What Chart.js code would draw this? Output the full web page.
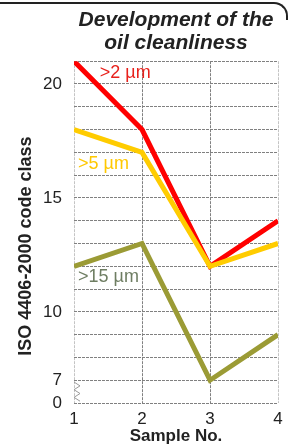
<!DOCTYPE html>
<html>
<head>
<meta charset="utf-8">
<script src="https://cdn.jsdelivr.net/npm/chart.js@4.4.1/dist/chart.umd.min.js"></script>
<style>
  html, body { margin: 0; padding: 0; background: #fff; }
  #wrap { position: relative; width: 293px; height: 447px; }
  #frame {
    position: absolute; top: 2px; left: -4px; width: 292px; height: 18px;
    border-top: 2px solid #222; border-right: 2px solid #222;
    border-top-right-radius: 14px; box-sizing: border-box;
  }
</style>
</head>
<body>
<div id="wrap">
  <canvas id="c" role="img" aria-label="Development of the oil cleanliness"></canvas>
  <div id="frame"></div>
</div>
<script>
// sample numbers on the x axis
const samples = [1, 2, 3, 4];
// ISO 4406 code class per particle size
const over2 = [21, 18, 12, 14];
const over5 = [18, 17, 12, 13];
const over15 = [12, 13, 7, 9];
// y axis is broken: the bottom gridline stands for 0
const yTickValues = [6, 7, 10, 15, 20];
const yTickText = ['0', '7', '10', '15', '20'];
const seriesNames = ['>2 µm', '>5 µm', '>15 µm'];
const yTitle = 'ISO 4406-2000 code class';

const FONT = "'Liberation Sans', Arial, sans-serif";
const pts = (arr) => samples.map((s, i) => ({ x: s, y: arr[i] }));

// line labels, y title (sits a bit low in the original) + axis break mark
const extras = {
  id: 'extras',
  afterDatasetsDraw(chart) {
    const { ctx, chartArea, scales: { x, y } } = chart;
    ctx.save();
    ctx.font = '18px ' + FONT;
    ctx.textBaseline = 'middle';
    const spots = [
      { t: seriesNames[0], x: 1.38, y: 20.5, c: '#e8211c' },
      { t: seriesNames[1], x: 1.06, y: 16.5, c: '#ffc800' },
      { t: seriesNames[2], x: 1.06, y: 11.55, c: '#6e7d62' },
    ];
    spots.forEach((s) => {
      ctx.fillStyle = s.c;
      ctx.fillText(s.t, x.getPixelForValue(s.x), y.getPixelForValue(s.y));
    });

    ctx.save();
    ctx.translate(y.left + 14, (chartArea.top + chartArea.bottom) / 2 + 14);
    ctx.rotate(-Math.PI / 2);
    ctx.textAlign = 'center';
    ctx.fillStyle = '#222';
    ctx.font = 'bold 18px ' + FONT;
    ctx.fillText(yTitle, 0, 0);
    ctx.restore();

    // zigzag between 7 and 0
    const x0 = x.getPixelForValue(1);
    const yTop = y.getPixelForValue(6.92);
    const yBot = y.getPixelForValue(6.08);
    const n = 5;
    ctx.strokeStyle = '#9a9a9a';
    ctx.lineWidth = 1;
    ctx.beginPath();
    ctx.moveTo(x0, yTop);
    for (let i = 1; i <= n; i++) {
      const yy = yTop + ((yBot - yTop) * i) / n;
      ctx.lineTo(i % 2 ? x0 + 6 : x0, yy);
    }
    ctx.stroke();
    ctx.restore();
  },
};

new Chart(document.getElementById('c'), {
  type: 'line',
  data: {
    datasets: [
      { label: seriesNames[2], data: pts(over15), borderColor: '#9b9b35', order: 3 },
      { label: seriesNames[0], data: pts(over2), borderColor: '#ff0000', order: 2 },
      { label: seriesNames[1], data: pts(over5), borderColor: '#ffcc00', order: 1 },
    ],
  },
  options: {
    responsive: true,
    maintainAspectRatio: false,
    animation: false,
    layout: { padding: { left: 12, right: 15, top: 0, bottom: 0 } },
    elements: {
      line: { borderWidth: 5, tension: 0, borderJoinStyle: 'miter', borderCapStyle: 'butt' },
      point: { radius: 0 },
    },
    plugins: {
      legend: { display: false },
      tooltip: { enabled: false },
      title: {
        display: true,
        fullSize: false,
        text: ['Development of the', 'oil cleanliness'],
        color: '#222',
        font: { family: FONT, size: 21, weight: 'bold', style: 'italic', lineHeight: 1.1 },
        padding: { top: 9, bottom: 6 },
      },
    },
    scales: {
      x: {
        type: 'linear',
        min: 1,
        max: 4,
        afterFit: (s) => { s.height = 44; },
        ticks: {
          stepSize: 1,
          padding: 6,
          color: '#222',
          font: { family: FONT, size: 17 },
        },
        grid: {
          drawTicks: false,
          color: (ctx) => (ctx.index === 0 || ctx.index === samples.length - 1 ? '#c4c4c4' : '#808080'),
          lineWidth: 1,
        },
        border: { display: false, dash: [3, 1] },
        title: {
          display: true,
          text: 'Sample No.',
          color: '#222',
          font: { family: FONT, size: 17, weight: 'bold' },
          padding: { top: 0, bottom: 0 },
        },
      },
      y: {
        min: 6,
        max: 21,
        afterFit: (s) => { s.width = 62; },
        ticks: {
          stepSize: 1,
          autoSkip: false,
          padding: 12,
          color: '#222',
          font: { family: FONT, size: 17 },
          callback: (v) => {
            const i = yTickValues.indexOf(v);
            return i < 0 ? '' : yTickText[i];
          },
        },
        grid: { drawTicks: false, color: '#808080', lineWidth: 1 },
        border: { display: false, dash: [3, 1] },
      },
    },
  },
  plugins: [extras],
});
</script>
</body>
</html>
